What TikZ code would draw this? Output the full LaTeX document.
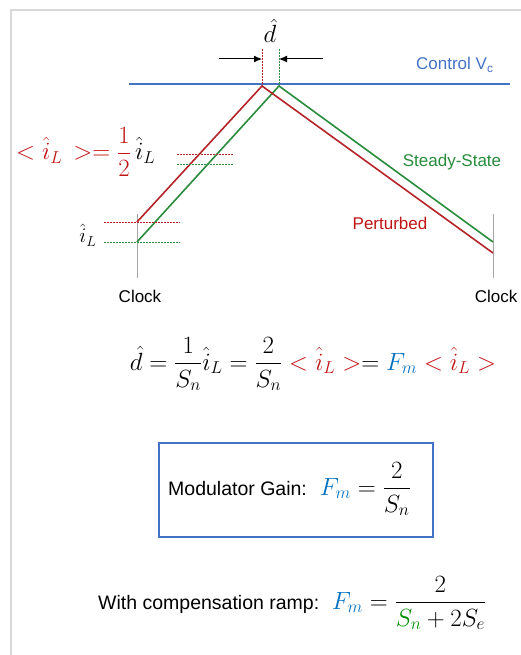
\documentclass[tikz,border=0pt]{standalone}
\usepackage{amsmath}
\usepackage{fontspec}
\setsansfont{Liberation Sans}
\usetikzlibrary{arrows.meta}
\definecolor{linered}{RGB}{180,35,40}
\definecolor{textred}{RGB}{192,20,20}
\definecolor{stgreen}{RGB}{40,140,60}
\definecolor{ctlblue}{RGB}{68,114,196}
\definecolor{fmblue}{RGB}{0,112,192}
\definecolor{sngreen}{RGB}{0,140,0}
\tikzset{
  sans/.style={font=\sffamily\fontsize{17}{20}\selectfont},
  bigmath/.style={font=\fontsize{26}{30}\selectfont, inner sep=0pt},
  midmath/.style={font=\fontsize{22}{26}\selectfont, inner sep=0pt},
  wave/.style={line width=1.6pt},
  guide/.style={line width=0.6pt, dash pattern=on 2pt off 1pt},
  clockline/.style={gray!70, line width=0.8pt},
}
\newcommand{\bodytext}[1]{{\sffamily\fontsize{19.5}{23}\selectfont #1}}
\begin{document}
\begin{tikzpicture}[x=1pt, y=-1pt]
  \useasboundingbox (0,0) rectangle (521,655);
  % Frame
  \draw[gray!30, line width=1.5pt] (11,655) -- (11,10) -- (521,10);
  % Control voltage
  \coordinate (vcL) at (129,84);
  \coordinate (vcR) at (510,84);
  \draw[ctlblue, line width=1.8pt] (vcL) -- (vcR);
  \node[sans, ctlblue, anchor=base east] (vclab) at (497,70) {Control V\textsubscript{c}};
  % Clock marks
  \foreach \n/\x in {L/137, R/493} {
    \coordinate (ck\n top) at (\x,214);
    \coordinate (ck\n bot) at (\x,278);
    \draw[clockline] (ck\n top) -- (ck\n bot);
    \node[sans, anchor=base] (clock\n) at (\x+3,302) {Clock};
  }
  % Waveform points
  \coordinate (rs) at (137,222);
  \coordinate (rp) at (262,86);
  \coordinate (re) at (493,253);
  \coordinate (gs) at (137,242);
  \coordinate (gp) at (279,86);
  \coordinate (ge) at (493,242);
  % Steady-state and perturbed ramps
  \draw[wave, stgreen] (gs) -- (gp) -- (ge);
  \draw[wave, linered] (rs) -- (rp) -- (re);
  \node[sans, stgreen, anchor=base] (sslab) at (452,167) {Steady-State};
  \node[sans, textred, anchor=base] (ptlab) at (390,229) {Perturbed};
  % Duty cycle perturbation
  \coordinate (rtop) at (262,49);
  \coordinate (gtop) at (279,49);
  \draw[guide, linered] (rtop) -- (rp);
  \draw[guide, stgreen] (gtop) -- (gp);
  \coordinate (arL) at (219,59);
  \coordinate (arR) at (323,59);
  \draw[line width=1pt, -{Latex[length=8pt, width=7pt]}] (arL) -- (arL -| rtop);
  \draw[line width=1pt, -{Latex[length=8pt, width=7pt]}] (arR) -- (arR -| gtop);
  \node[bigmath] (dhat) at (270,31) {$\hat{d}$};
  % Current levels
  \coordinate (rlo1) at (104,222); \coordinate (rlo2) at (180,222);
  \coordinate (glo1) at (104,242); \coordinate (glo2) at (180,242);
  \coordinate (rhi1) at (177,154); \coordinate (rhi2) at (234,154);
  \coordinate (ghi1) at (177,164); \coordinate (ghi2) at (234,164);
  \draw[guide, linered] (rlo1) -- (rlo2);
  \draw[guide, stgreen] (glo1) -- (glo2);
  \draw[guide, linered] (rhi1) -- (rhi2);
  \draw[guide, stgreen] (ghi1) -- (ghi2);
  \node[midmath] (ilab) at (88,235) {$\hat{i}_L$};
  \node[bigmath, font=\fontsize{27}{32}\selectfont, anchor=west] (avglab) at (16,152)
    {$\color{textred}<\hat{i}_L\,>=\dfrac{1}{2}\,\color{black}\hat{i}_L$};
  % Gain derivation
  \node[bigmath, font=\fontsize{27}{32}\selectfont] (deriv) at (313,364)
    {$\hat{d}=\dfrac{1}{S_n}\hat{i}_L=\dfrac{2}{S_n}\color{textred}<\hat{i}_L>\color{black}=\color{fmblue}F_m\color{textred}<\hat{i}_L>$};
  % Modulator gain box
  \draw[ctlblue, line width=1.6pt] (159,443) rectangle (433,537);
  \node[bigmath, anchor=west] (gain) at (168,489)
    {\bodytext{Modulator Gain:}\enspace$\color{fmblue}F_m\color{black}=\dfrac{2}{S_n}$};
  % Compensation ramp
  \node[bigmath, font=\fontsize{25}{30}\selectfont, anchor=west] (comp) at (98,603)
    {\bodytext{With compensation ramp:}\enspace$\color{fmblue}F_m\color{black}=\dfrac{2}{\color{sngreen}S_n\color{black}+2S_e}$};
\end{tikzpicture}
\end{document}
